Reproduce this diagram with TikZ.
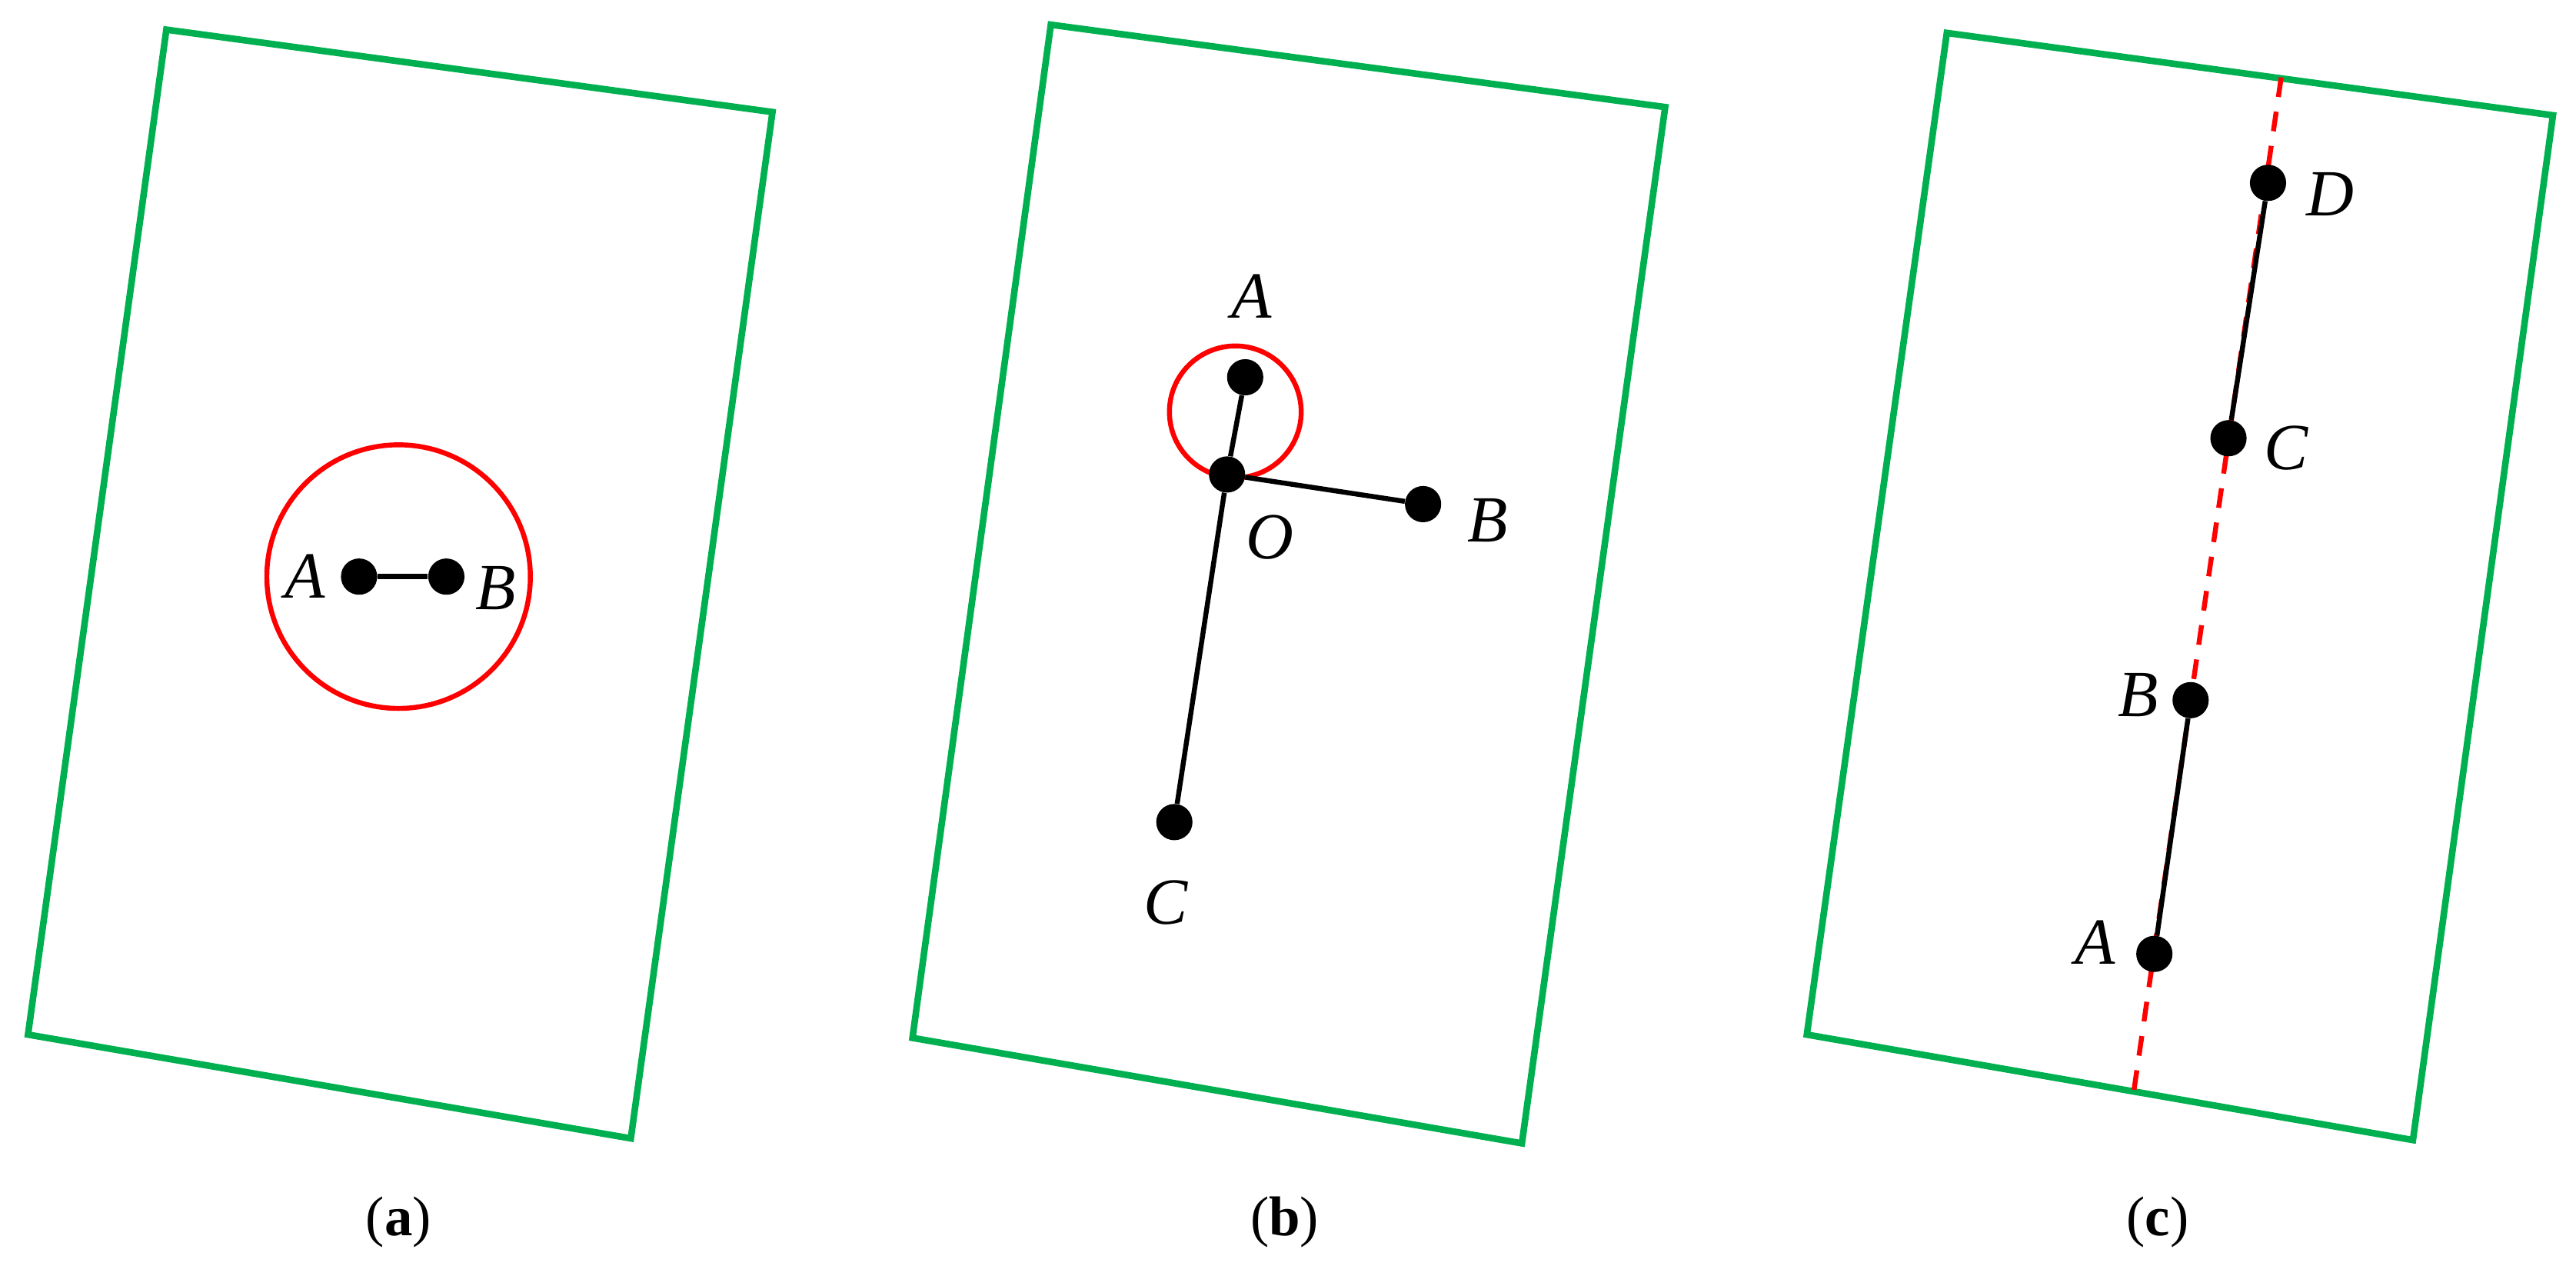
\documentclass[tikz,border=0pt]{standalone}
\usepackage{fontspec}
\setmainfont{Liberation Serif}
\begin{document}
\begin{tikzpicture}[x=1pt,y=-1pt,
  frame/.style={draw={rgb,255:red,0;green,176;blue,80},line width=4pt,line join=miter},
  ring/.style={draw=red,line width=3pt},
  pt/.style={circle,fill=black,inner sep=0pt,minimum size=22pt},
  seg/.style={line width=3pt},
  rdash/.style={draw=red,line width=3pt,dash pattern=on 12pt off 9pt},
  lab/.style={font=\fontsize{40}{46}\selectfont\itshape},
  captext/.style={font=\fontsize{34}{40}\selectfont}]
\useasboundingbox (0,0) rectangle (1564,768);
% (a)
\draw[frame] (101,18) -- (469,68) -- (383,691) -- (17,628) -- cycle;
\draw[ring] (242,350) circle (80);
\node[pt] (aA) at (218,350) {};
\node[pt] (aB) at (271,350) {};
\draw[seg] (aA) -- (aB);
\node[lab] at (185,350) {A};
\node[lab] at (301,357) {B};
\node[captext] at (242,742) {(\textbf{a})};
% (b)
\draw[frame] (638,15) -- (1011,65) -- (924,694) -- (554,630) -- cycle;
\draw[ring] (750,250) circle (40);
\node[pt] (bO) at (745,288) {};
\node[pt] (bA) at (756,229) {};
\node[pt] (bB) at (864,306) {};
\node[pt] (bC) at (713,499) {};
\draw[seg] (bO) -- (bA);
\draw[seg] (bO) -- (bB);
\draw[seg] (bO) -- (bC);
\node[lab] at (760,180) {A};
\node[lab] at (903,316) {B};
\node[lab] at (771,326) {O};
\node[lab] at (708,548) {C};
\node[captext] at (780,742) {(\textbf{b})};
% (c)
\draw[frame] (1182,20) -- (1550,70) -- (1465,692) -- (1097,628) -- cycle;
\coordinate (ct) at (1385,47);
\coordinate (cb) at (1295,666);
\draw[rdash] (ct) -- (cb);
\node[pt] (cD) at (1377,111) {};
\node[pt] (cC) at (1353,266) {};
\node[pt] (cB) at (1330,425) {};
\node[pt] (cA) at (1308,579) {};
\draw[seg] (cD) -- (cC);
\draw[seg] (cB) -- (cA);
\node[lab] at (1415,118) {D};
\node[lab] at (1388,272) {C};
\node[lab] at (1298,422) {B};
\node[lab] at (1272,572) {A};
\node[captext] at (1310,742) {(\textbf{c})};
\end{tikzpicture}
\end{document}
